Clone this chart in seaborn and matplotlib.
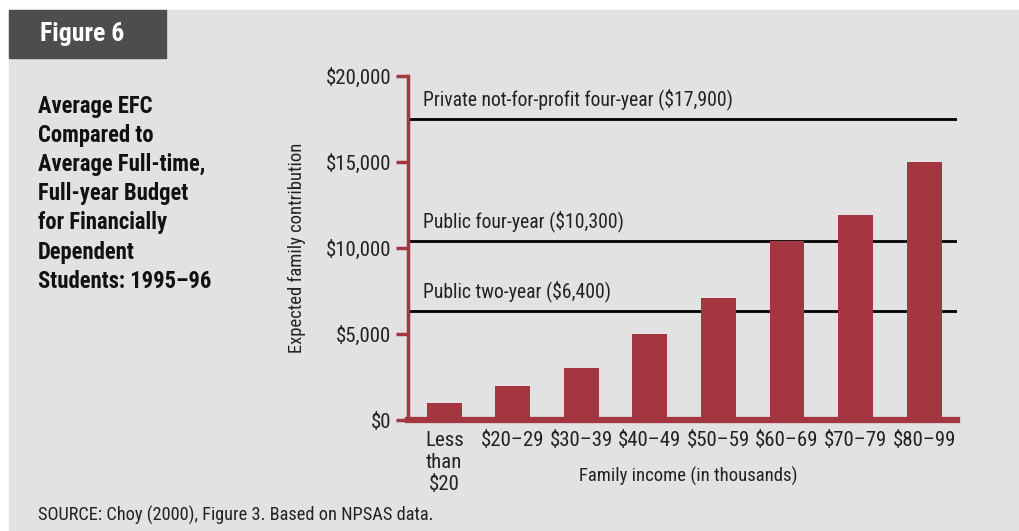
import matplotlib
matplotlib.use('Agg')
import matplotlib.pyplot as plt
import seaborn as sns
import pandas as pd
from matplotlib import font_manager
from matplotlib.patches import Rectangle
from matplotlib.ticker import FuncFormatter

# data
income = ['Less\nthan\n$20', '$20–29', '$30–39', '$40–49',
          '$50–59', '$60–69', '$70–79', '$80–99']
efc = [1000, 2000, 3000, 5000, 7100, 10400, 11900, 15000]
budget_labels = ['Private not-for-profit four-year ($17,900)',
                 'Public four-year ($10,300)',
                 'Public two-year ($6,400)']
budget_lines = [17500, 10400, 6350]

sns.set_theme(style='white')
# narrow sans if there is one, else the closest thing
installed = {f.name for f in font_manager.fontManager.ttflist}
narrow = [n for n in ['Liberation Sans Narrow', 'Roboto Condensed', 'Arial Narrow']
          if n in installed]
base = narrow[0] if narrow else 'Liberation Sans'
scale = 1.0 if narrow else 0.9
plt.rcParams['font.family'] = [base, 'DejaVu Sans']

red = '#a33641'
bg = '#e2e2e2'
ink = '#222222'

fig = plt.figure(figsize=(10.2, 5.31), dpi=100)
fig.patch.set_facecolor('white')
fig.patches.append(Rectangle((9/1020, 0), 1 - 9/1020, 1 - 10/531,
                             transform=fig.transFigure, color=bg, zorder=-10))
# "Figure 6" tab
fig.patches.append(Rectangle((9/1020, 1 - 58/531), 157/1020, 48/531,
                             transform=fig.transFigure, color='#4d4d4d', zorder=-5))
fig.text(82/1020, 1 - 34/531, 'Figure 6', color='white', fontsize=18.5 * scale,
         fontweight='bold', ha='center', va='center')

fig.text(38/1020, 1 - 95/531,
         'Average EFC\nCompared to\nAverage Full-time,\nFull-year Budget\n'
         'for Financially\nDependent\nStudents: 1995–96',
         fontsize=16.3 * scale, fontweight='bold', ha='left', va='top',
         linespacing=1.34, color='#111111')

fig.text(38/1020, 1 - 515/531, 'SOURCE: Choy (2000), Figure 3. Based on NPSAS data.',
         fontsize=13.2 * scale, ha='left', va='center', color=ink)

ax = fig.add_axes([408/1020, 1 - 420/531, 549/1020, 344/531])
ax.set_facecolor('none')

df = pd.DataFrame({'income': income, 'efc': efc})
sns.barplot(data=df, x='income', y='efc', color=red, saturation=1,
            width=0.51, linewidth=0, ax=ax, zorder=3)

for val, lab in zip(budget_lines, budget_labels):
    ax.axhline(val, color='black', lw=2, zorder=2)
    ax.text(0.027, val + 1150, lab, transform=ax.get_yaxis_transform(),
            fontsize=14.1 * scale, ha='left', va='center', color=ink)

ax.set_xlim(-0.53, 7.48)
ax.set_ylim(0, 20000)
ax.set_yticks([0, 5000, 10000, 15000, 20000])
ax.yaxis.set_major_formatter(FuncFormatter(lambda v, p: f'${v:,.0f}'))

for s in ['top', 'right']:
    ax.spines[s].set_visible(False)
ax.spines['left'].set_color(red)
ax.spines['left'].set_linewidth(2.5)
ax.spines['bottom'].set_color(red)
ax.spines['bottom'].set_linewidth(4.5)
ax.spines['bottom'].set_zorder(4)

ax.tick_params(axis='y', which='major', left=True, length=9, width=2.5,
               color=red, labelsize=15 * scale, pad=3, labelcolor=ink)
ax.tick_params(axis='x', bottom=False, labelsize=15 * scale, pad=2, labelcolor=ink)
for t in ax.get_xticklabels():
    t.set_verticalalignment('top')
    t.set_linespacing(1.2)

ax.set_xlabel('Family income (in thousands)', fontsize=13.5 * scale, color=ink)
ax.xaxis.set_label_coords(0.51, -0.135)
ax.set_ylabel('Expected family contribution', fontsize=13.4 * scale, color=ink)
ax.yaxis.set_label_coords(-0.186, 0.5)

fig.savefig('out.png', dpi=100, facecolor=fig.get_facecolor())
